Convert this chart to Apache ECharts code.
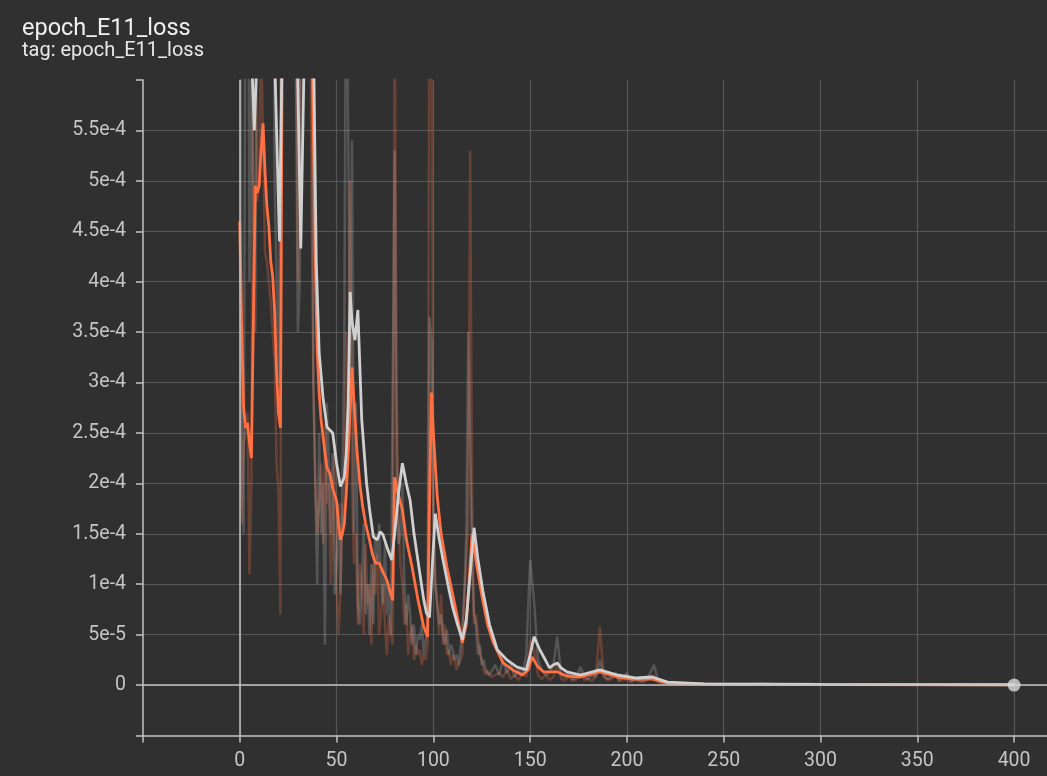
<!DOCTYPE html>
<html>
<head>
<meta charset="utf-8">
<script src="https://cdn.jsdelivr.net/npm/echarts@6/dist/echarts.min.js"></script>
<style>
html,body{margin:0;padding:0;background:#303030;}
#chart{width:1047px;height:776px;}
</style>
</head>
<body>
<div id="chart"></div>
<script>
// Values in units of 1e-4 (y axis labels show the real values)
const titleText = 'epoch_E11_loss';
const subText = 'tag: epoch_E11_loss';
const yTickLabels = ['0','5e-5','1e-4','1.5e-4','2e-4','2.5e-4','3e-4','3.5e-4','4e-4','4.5e-4','5e-4','5.5e-4'];
const xTickLabels = ['0','50','100','150','200','250','300','350','400'];

// raw epochs: 0..130 step 1, 132..230 step 2, 240..400 step 10
const rawEpochSegments = [[0,130,1],[132,230,2],[240,400,10]];

const rawOrange = [
4.6,1.6,2.4,2.5,2.7,1.1,2.0,7.5,7.0,4.8,
5.0,6.5,6.5,4.3,4.2,4.2,3.8,3.8,3.2,2.2,
1.9,0.7,9,12,8,10,7,11,9,8,
4,6,9,12,10,8,9,5,3.0,2.0,
1.5,1.8,2.2,1.4,2.6,1.8,2.0,1.0,1.6,2.3,
1.0,0.5,0.9,1.8,1.6,3.5,3.0,5.0,2.0,1.2,
1.5,0.6,1.2,1.0,0.5,1.4,0.8,1.0,0.4,1.2,
0.9,1.3,0.5,0.7,1.0,0.6,0.3,0.7,0.5,0.4,
7.0,3.0,1.6,1.2,1.0,0.6,0.8,0.3,0.5,0.6,
0.25,0.4,0.3,0.35,0.2,0.3,0.25,0.4,7.5,6.5,
1.8,1.0,0.8,0.5,0.9,0.4,0.6,0.3,0.35,0.2,
0.3,0.25,0.15,0.2,0.2,0.3,0.9,1.2,1.6,5.3,
1.8,0.6,0.7,0.5,0.3,0.25,0.15,0.1,0.15,0.1,
0.08,
0.1,0.12,0.08,0.15,0.06,0.1,0.05,0.12,0.08,0.45,
0.35,0.1,0.06,0.1,0.05,0.08,0.22,0.06,0.05,0.08,
0.04,0.06,0.12,0.05,0.06,0.04,0.1,0.58,0.08,0.05,
0.06,0.1,0.04,0.05,0.06,0.03,0.05,0.04,0.03,0.05,
0.08,0.1,0.03,0.02,0.03,0.02,0.02,0.01,0.02,0.01,
0.01,0.01,0.008,0.01,0.006,0.008,0.005,0.005,0.006,0.004,0.005,0.004,0.004,0.003,0.004,0.003,0.003
];

const rawGray = [
9,2.0,1.5,8,10,4,6,5,3.5,8,
9,12,7,10,9,8,11,9,5,5,
3.0,5.5,10,14,8,11,9,12,10,6,
3.5,4.0,9,12,9,10,8,9,3.0,2.0,
1.0,2.5,1.5,2.0,0.4,2.8,2.2,1.5,2.3,0.9,
1.2,1.8,0.9,2.0,3.4,8,5.5,3.0,5.4,1.5,
2.8,0.8,0.6,1.0,1.6,0.7,1.0,0.5,1.2,0.6,
1.5,1.2,1.6,1.0,0.8,1.4,0.7,1.0,0.5,3.0,
5.3,2.2,1.4,1.5,2.0,1.0,0.6,0.9,0.7,0.4,
0.6,0.3,0.5,0.45,0.6,0.3,0.45,0.5,3.65,3.4,
1.6,1.0,1.0,0.6,0.7,0.5,0.4,0.55,0.3,0.4,
0.35,0.25,0.3,0.2,0.35,0.6,0.9,1.5,3.5,2.4,
1.2,0.7,0.6,0.3,0.4,0.2,0.25,0.15,0.12,0.1,
0.1,
0.2,0.1,0.25,0.12,0.2,0.08,0.15,0.1,0.3,1.24,
0.84,0.25,0.15,0.1,0.12,0.2,0.48,0.1,0.08,0.12,
0.06,0.08,0.18,0.08,0.06,0.1,0.08,0.25,0.1,0.06,
0.08,0.12,0.05,0.08,0.12,0.04,0.06,0.05,0.04,0.06,
0.12,0.2,0.05,0.03,0.03,0.02,0.02,0.02,0.01,0.01,
0.012,0.01,0.01,0.012,0.008,0.01,0.007,0.006,0.008,0.005,0.006,0.005,0.005,0.004,0.005,0.004,0.004
];

const smoothOrangeEpochs = [0,1,2,3,4,5,6,7,8,9,10,11,12,13,14,15,16,17,18,19,20,21,22,24,26,28,30,31,33,35,37,38,39,40,41,42,44,45,46.5,48,50,51,52,53,54,55,56,58,59,60.5,62,63.5,65,67,68.5,70,72,74,76,78,79,80,81,84,86,89,92,95,97,98,99,100,102,104,107,110,112,115,117,119,120,122.5,125.5,128,131,136,141,146,149,151,154,157,164,169,176,186,195,203,213,221,240,300,400];
const smoothOrange = [4.6,3.5,2.75,2.55,2.6,2.4,2.25,3.6,4.95,4.88,4.95,5.3,5.57,5.1,4.75,4.55,4.2,4.05,3.7,3.1,2.7,2.55,6.8,7.5,7.2,7.8,6.8,6.3,7.5,8.0,7.0,5.5,4.2,3.3,2.9,2.63,2.3,2.16,2.1,1.95,1.83,1.6,1.44,1.5,1.6,1.9,2.3,3.15,2.8,2.33,2.0,1.77,1.6,1.44,1.3,1.21,1.21,1.12,1.04,0.9,0.84,2.06,1.95,1.74,1.45,1.17,0.85,0.58,0.48,1.8,2.9,2.5,1.87,1.5,1.17,0.9,0.71,0.42,0.6,1.2,1.5,1.17,0.84,0.6,0.42,0.22,0.15,0.1,0.15,0.28,0.18,0.13,0.13,0.09,0.08,0.13,0.08,0.06,0.06,0.02,0.01,0.005,0.002];

const smoothGrayEpochs = [0,2,4,6,7.5,9.5,12,15,17,19,20.5,22,24,27,29.5,31.5,33.5,36,38,39.5,41,43,45,48,50,52,54,55,56,57,58,59.5,61,63,65.5,67,69,71,72.5,74,76,78.5,80,82,84,86,88,90,93,95,96.5,98,99.5,101,103,105,107.5,110,112.5,115,117,119,121,123,125.5,129,133,138,143,148,150,152,155,157,160,162,164,166,169,176,186,195,205,213,221,240,300,400];
const smoothGray = [9.5,8.0,7.5,6.3,5.5,6.6,8,8.5,7.0,5.5,4.4,6.5,8.5,9,6.5,4.33,6.5,8.5,6.5,4.2,3.3,2.85,2.56,2.5,2.2,1.97,2.06,2.3,2.8,3.9,3.6,3.42,3.72,2.63,2.0,1.75,1.47,1.44,1.52,1.49,1.37,1.24,1.5,1.9,2.2,2.0,1.83,1.5,1.11,0.85,0.71,0.67,1.2,1.7,1.45,1.24,1.0,0.77,0.6,0.45,0.65,1.1,1.56,1.25,0.94,0.6,0.35,0.25,0.18,0.15,0.3,0.48,0.35,0.28,0.17,0.2,0.22,0.17,0.13,0.1,0.15,0.1,0.07,0.08,0.03,0.012,0.006,0.003];

const lastPoint = [400, 0];

// ---------- build ----------
const rawEpochs = [];
rawEpochSegments.forEach(([a,b,s]) => { for (let e=a; e<=b; e+=s) rawEpochs.push(e); });
const pairs = (xs, ys) => ys.map((v,i) => [xs[i], v]);

const AXIS_COL = '#c2c2c2';
const LABEL_COL = '#c4c4c4';
const GRID_COL = '#565656';
const FONT = 'Roboto, "Noto Sans", sans-serif';

const chart = echarts.init(document.getElementById('chart'), null, {renderer:'canvas'});
chart.setOption({
  backgroundColor: '#303030',
  animation: false,
  title: {
    text: titleText, subtext: subText, left: 17, top: 12, itemGap: 0,
    textStyle: {color:'#f0f0f0', fontSize:23.5, fontWeight:'normal', fontFamily: FONT},
    subtextStyle: {color:'#e8e8e8', fontSize:20, fontFamily: FONT}
  },
  grid: {left:143, right:0, top:80, bottom:40.5, containLabel:false},
  xAxis: {
    type:'value', min:-50, max:417, interval:50,
    axisLine:{show:true, onZero:false, lineStyle:{color:AXIS_COL, width:1.5}},
    axisTick:{show:true, length:7, lineStyle:{color:AXIS_COL, width:1.5}},
    axisLabel:{color:LABEL_COL, fontSize:19.5, fontFamily:FONT, margin:16, showMaxLabel:false,
      formatter: v => { const i = Math.round(v/50); return (i>=0 && i<xTickLabels.length && Math.abs(v-i*50)<1e-6) ? xTickLabels[i] : ''; }},
    splitLine:{show:true, showMinLine:false, showMaxLine:false, lineStyle:{color:GRID_COL, width:1.2}}
  },
  yAxis: {
    type:'value', min:-0.5, max:6.0, interval:0.5,
    axisLine:{show:true, onZero:false, lineStyle:{color:AXIS_COL, width:1.5}},
    axisTick:{show:true, length:7, lineStyle:{color:AXIS_COL, width:1.5}},
    axisLabel:{color:LABEL_COL, fontSize:19.5, fontFamily:FONT, margin:17,
      formatter: v => { const i = Math.round(v/0.5); return (i>=0 && i<yTickLabels.length) ? yTickLabels[i] : ''; }},
    splitLine:{show:true, showMinLine:false, showMaxLine:false, lineStyle:{color:GRID_COL, width:1.2}}
  },
  series: [
    { type:'line', data:[], z:1, silent:true,
      markLine:{silent:true, symbol:'none', label:{show:false}, animation:false,
        lineStyle:{color:AXIS_COL, width:1.5, type:'solid'},
        data:[{yAxis:0},{xAxis:0}]} },
    { name:'raw orange', type:'line', data:pairs(rawEpochs, rawOrange), showSymbol:false, z:2,
      lineStyle:{color:'rgba(255,112,67,0.27)', width:2.5} },
    { name:'raw gray', type:'line', data:pairs(rawEpochs, rawGray), showSymbol:false, z:2,
      lineStyle:{color:'rgba(200,200,200,0.24)', width:2.5} },
    { name:'smoothed orange', type:'line', data:pairs(smoothOrangeEpochs, smoothOrange), showSymbol:false, z:3,
      lineStyle:{color:'#ff7043', width:2.8} },
    { name:'smoothed gray', type:'line', data:pairs(smoothGrayEpochs, smoothGray), showSymbol:false, z:4,
      lineStyle:{color:'#d0d0d0', width:2.8} },
    { name:'last', type:'scatter', data:[lastPoint], symbolSize:13, z:5,
      itemStyle:{color:'#d9d9d9'} }
  ]
});
</script>
</body>
</html>
